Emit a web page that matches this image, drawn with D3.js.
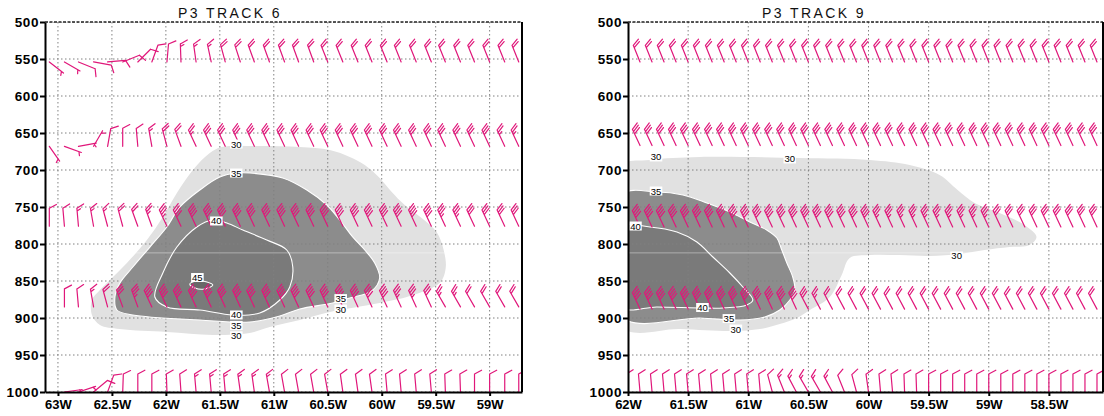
<!DOCTYPE html>
<html><head><meta charset="utf-8">
<script src="https://cdn.jsdelivr.net/npm/d3@7"></script>
<style>
html,body{margin:0;padding:0;background:#fff;}
svg{display:block;}
</style></head><body>
<svg id="chart" width="1104" height="416"></svg>
<script>
// ---------------- DATA ----------------
const pressureTicks = [500,550,600,650,700,750,800,850,900,950,1000];
const leftLonTicks = [-63,-62.5,-62,-61.5,-61,-60.5,-60,-59.5,-59];
const rightLonTicks = [-62,-61.5,-61,-60.5,-60,-59.5,-59,-58.5];
const leftTitle = "P3 TRACK 6";
const rightTitle = "P3 TRACK 9";
const refLevel = 812;

// Track 6 wind barbs (staff direction deg, speed kt)
const leftLons = [-63.08,-62.94,-62.81,-62.67,-62.54,-62.40,-62.26,-62.13,-61.99,-61.86,-61.72,-61.58,-61.45,-61.31,-61.18,-61.04,-60.90,-60.77,-60.63,-60.50,-60.36,-60.22,-60.09,-59.95,-59.82,-59.68,-59.54,-59.41,-59.27,-59.14,-59.00,-58.86,-58.73];
const leftLevels = [554,668,776,885,1000];
const leftDir554 = [128,120,112,100,85,68,45,20,5,358,352,348,345,342,340,340,340,340,340,338,338,338,338,338,338,338,338,338,338,338,338,338,338];
const leftSpd554 = [5,5,10,10,10,10,10,10,10,15,15,15,20,20,20,20,20,20,20,20,20,20,20,20,20,20,20,20,20,20,20,20,20];
const leftDir668 = [145,110,80,30,10,0,355,350,345,340,335,335,335,335,335,335,335,335,335,335,335,335,335,335,335,335,335,335,335,335,335,335,335];
const leftSpd668 = [5,5,5,5,10,10,10,15,20,20,25,30,30,30,30,30,30,30,30,30,30,30,30,30,30,30,30,30,30,30,30,25,25];
const leftDir776 = [0,355,355,350,345,345,340,340,335,335,335,335,335,335,335,335,335,335,335,335,335,335,335,335,335,335,335,335,335,335,335,335,335];
const leftSpd776 = [10,10,15,15,15,20,20,25,35,40,40,40,40,40,40,40,40,40,40,40,40,40,40,40,40,40,40,35,35,30,30,30,30];
const leftDir885 = [null,0,355,350,345,340,340,335,335,335,335,335,335,335,335,335,335,335,335,335,335,335,335,335,335,335,335,330,330,330,330,330,330];
const leftSpd885 = [null,10,10,15,20,30,35,40,40,40,40,40,40,40,40,40,40,40,40,40,40,40,40,40,35,35,30,25,25,20,20,20,20];
const leftDir1000 = [null,82,72,50,20,2,0,0,358,356,355,355,355,352,352,350,350,350,350,350,352,352,352,355,355,355,355,358,358,0,0,0,0];
const leftSpd1000 = [null,5,5,10,10,10,10,10,10,10,15,15,15,15,15,15,10,10,10,10,10,10,10,10,10,10,10,10,10,10,10,10,10];

// Track 9 wind barbs
const rightLons = [-62.0,-61.9,-61.8,-61.7,-61.6,-61.5,-61.4,-61.3,-61.2,-61.1,-61.0,-60.9,-60.8,-60.7,-60.6,-60.5,-60.4,-60.3,-60.2,-60.1,-60.0,-59.9,-59.8,-59.7,-59.6,-59.5,-59.4,-59.3,-59.2,-59.1,-59.0,-58.9,-58.8,-58.7,-58.6,-58.5,-58.4,-58.3,-58.2,-58.1];
const rightLevels = [554,667,777,888,1000];
const rightDir554 = [null,338,338,338,338,338,338,338,338,338,338,338,338,338,338,338,338,338,338,338,338,338,338,338,338,338,338,338,338,338,338,338,338,338,338,338,338,338,338,338];
const rightSpd554 = [null,20,20,20,20,20,20,20,20,20,20,20,20,20,20,20,20,20,20,20,20,20,20,20,20,20,20,20,20,20,20,20,20,20,20,20,20,20,20,20];
const rightDir667 = [null,335,335,335,335,335,335,335,335,335,335,335,335,335,335,335,335,335,335,335,335,335,335,335,335,335,335,335,335,335,335,335,335,335,335,335,335,335,335,335];
const rightSpd667 = [null,30,30,30,30,30,30,30,30,30,30,30,30,30,30,30,30,30,30,30,30,30,30,30,30,30,30,30,30,30,30,30,30,30,30,30,30,30,30,30];
const rightDir777 = [null,335,335,335,335,335,335,335,335,335,335,335,335,335,335,335,335,335,335,335,335,335,335,335,335,335,335,335,335,335,335,335,335,335,335,335,335,335,335,335];
const rightSpd777 = [null,40,40,40,40,40,40,40,40,40,40,40,40,40,40,40,40,40,40,40,40,35,35,35,35,35,35,35,35,35,35,30,30,30,30,30,30,30,30,30];
const rightDir888 = [null,335,335,335,335,335,335,335,335,335,335,335,335,335,335,332,332,332,332,332,332,332,332,332,332,332,332,332,332,332,332,332,332,332,332,332,332,332,332,332];
const rightSpd888 = [null,40,40,40,40,40,40,40,40,40,40,40,40,40,40,30,25,20,20,20,20,20,20,20,20,20,20,20,20,20,20,20,20,20,20,20,20,20,20,20];
const rightDir1000 = [355,355,355,355,355,355,355,355,355,355,355,355,345,338,332,330,330,332,338,345,352,355,355,358,358,0,0,0,0,0,0,0,0,0,0,0,0,0,0,0];
const rightSpd1000 = [10,10,10,10,10,10,10,10,10,10,10,10,10,15,15,15,15,15,10,10,10,10,10,10,10,10,10,10,10,10,10,10,10,10,10,10,10,10,10,10];

// Wind speed shading contours [lon, hPa]
const left30 = [[-62.611,862.2],[-62.519,848.7],[-62.361,825.7],[-62.176,794.6],[-62.028,763.5],[-61.898,731.1],[-61.750,700.0],[-61.593,677.0],[-61.481,668.9],[-61.130,667.6],[-60.759,668.9],[-60.481,673.0],[-60.296,682.4],[-60.157,693.3],[-60.019,710.8],[-59.907,729.7],[-59.787,747.3],[-59.630,764.9],[-59.491,783.8],[-59.426,808.1],[-59.407,832.4],[-59.463,852.7],[-59.741,870.3],[-60.019,879.7],[-60.481,891.9],[-60.759,902.7],[-61.037,912.2],[-61.222,920.2],[-61.565,922.9],[-61.991,918.9],[-62.426,914.9],[-62.611,909.5],[-62.685,896.0],[-62.685,875.7]];
const left35 = [[-62.472,871.6],[-62.426,852.7],[-62.306,831.1],[-62.148,804.1],[-61.991,777.0],[-61.870,750.0],[-61.685,727.0],[-61.500,709.5],[-61.343,704.1],[-61.222,704.1],[-60.917,710.8],[-60.694,727.0],[-60.509,747.3],[-60.389,767.6],[-60.269,790.5],[-60.157,808.1],[-60.065,825.7],[-60.019,846.0],[-60.093,863.5],[-60.296,873.0],[-60.454,879.7],[-60.759,887.8],[-60.944,897.3],[-61.222,905.4],[-61.685,902.7],[-62.306,896.0],[-62.454,889.2]];
const left40 = [[-62.102,871.6],[-62.028,839.2],[-61.898,804.1],[-61.713,777.0],[-61.565,767.6],[-61.435,771.6],[-61.287,781.1],[-61.065,794.6],[-60.880,808.1],[-60.824,831.1],[-60.852,858.1],[-60.944,875.7],[-61.130,893.2],[-61.380,896.0],[-61.685,889.2],[-61.991,885.1]];
const left45 = [[-61.778,854.1],[-61.713,850.0],[-61.620,851.4],[-61.565,855.4],[-61.639,860.8],[-61.731,859.5]];
const right30 = [[-62.05,694.6],[-61.817,686.5],[-61.402,682.4],[-60.571,683.8],[-59.990,686.5],[-59.658,693.3],[-59.409,706.8],[-59.259,727.0],[-59.118,744.6],[-58.910,758.1],[-58.703,774.3],[-58.603,790.5],[-58.661,801.4],[-58.827,804.1],[-59.035,808.1],[-59.243,813.5],[-59.492,816.2],[-59.741,814.9],[-59.990,814.9],[-60.156,818.9],[-60.223,841.9],[-60.322,871.6],[-60.488,889.2],[-60.596,900.0],[-60.738,908.1],[-60.904,914.9],[-61.128,917.6],[-61.568,914.9],[-62.05,912.2]];
const right35 = [[-62.05,733.8],[-61.759,729.7],[-61.543,733.8],[-61.344,744.6],[-61.153,756.8],[-60.987,770.3],[-60.846,781.1],[-60.762,791.9],[-60.721,808.1],[-60.679,825.7],[-60.630,844.6],[-60.613,862.2],[-60.654,875.7],[-60.738,889.2],[-60.862,898.6],[-61.070,902.7],[-61.402,900.0],[-62.05,898.6]];
const right40 = [[-62.05,777.0],[-61.817,777.0],[-61.593,783.8],[-61.427,797.3],[-61.294,817.6],[-61.153,839.2],[-61.045,858.1],[-60.962,875.7],[-61.012,882.4],[-61.211,886.5],[-61.377,886.5],[-61.759,885.1],[-62.05,885.1]];

// contour labels [text, lon, hPa]
const leftLabels = [["30",-61.347,664.9],["35",-61.347,704.1],["40",-61.532,768.9],["45",-61.708,845.3],["40",-61.347,895.9],["35",-61.347,910.0],["30",-61.347,924.1],["35",-60.380,873.8],["30",-60.380,887.9]];
const rightLabels = [["30",-61.767,682.4],["30",-60.655,685.1],["35",-61.767,728.4],["40",-61.938,775.7],["40",-61.381,885.8],["35",-61.161,900.8],["30",-61.103,914.9],["30",-59.267,816.2]];

// ---------------- DRAWING ----------------
const svg = d3.select("#chart");
const BARB = "#e0177a";
const fills = {30:"#e1e1e1",35:"#8c8c8c",40:"#7a7a7a",45:"#686868"};

function barbPath(x, y, dir, spd) {
  const L = 18, BL = 8, SP = 2.6, A = 62 * Math.PI / 180;
  const t = dir * Math.PI / 180;
  const ux = Math.sin(t), uy = -Math.cos(t);
  const px = Math.cos(t), py = Math.sin(t);
  const tx = x + L * ux, ty = y + L * uy;
  const fx = Math.cos(A) * ux + Math.sin(A) * px, fy = Math.cos(A) * uy + Math.sin(A) * py;
  let d = `M${x},${y}L${tx},${ty}`;
  const s = Math.round(spd / 5) * 5;
  const n10 = Math.floor(s / 10), n5 = (s % 10) >= 5 ? 1 : 0;
  for (let i = 0; i < n10; i++) {
    const bx = tx - i * SP * ux, by = ty - i * SP * uy;
    d += `M${bx},${by}l${BL * fx},${BL * fy}`;
  }
  if (n5) {
    const i = n10 === 0 ? 1 : n10;
    const bx = tx - i * SP * ux, by = ty - i * SP * uy;
    d += `M${bx},${by}l${BL * 0.5 * fx},${BL * 0.5 * fy}`;
  }
  return d;
}

function panel(cfg) {
  const x = d3.scaleLinear().domain(cfg.lonDomain).range([cfg.x0, cfg.x1]);
  const y = d3.scaleLinear().domain([500, 1000]).range([22, 392]);
  const g = svg.append("g");
  const clipId = "clip" + cfg.id;
  svg.append("clipPath").attr("id", clipId).append("rect")
    .attr("x", cfg.x0).attr("y", 22).attr("width", cfg.x1 - cfg.x0).attr("height", 370);
  const plot = g.append("g").attr("clip-path", `url(#${clipId})`);

  const line = d3.line().x(d => x(d[0])).y(d => y(d[1])).curve(d3.curveCatmullRomClosed.alpha(0.5));
  cfg.polys.forEach(p => {
    plot.append("path").attr("d", line(p.pts)).attr("fill", fills[p.level]).attr("stroke", "none");
  });
  plot.append("line").attr("x1", cfg.x0).attr("x2", cfg.x1)
    .attr("y1", y(refLevel)).attr("y2", y(refLevel))
    .attr("stroke", "#fff").attr("stroke-opacity", 0.4).attr("stroke-width", 1);
  const grid = plot.append("g").attr("stroke", "#808080").attr("stroke-width", 1).attr("stroke-dasharray", "1.5,2.5");
  cfg.lonTicks.forEach(v => grid.append("line").attr("x1", x(v)).attr("x2", x(v)).attr("y1", 22).attr("y2", 392));
  pressureTicks.forEach(v => grid.append("line").attr("x1", cfg.x0).attr("x2", cfg.x1).attr("y1", y(v)).attr("y2", y(v)));
  cfg.polys.filter(p => p.level > 30).forEach(p => {
    plot.append("path").attr("d", line(p.pts)).attr("fill", "none").attr("stroke", "#fff").attr("stroke-width", 1.1);
  });
  const bg = plot.append("g").attr("stroke", BARB).attr("stroke-width", 1.2).attr("fill", "none").attr("stroke-linecap", "round");
  cfg.rows.forEach(r => {
    cfg.lons.forEach((lon, i) => {
      if (r.dir[i] == null || r.spd[i] == null) return;
      bg.append("path").attr("d", barbPath(x(lon), y(r.level), r.dir[i], r.spd[i]));
    });
  });
  const lg = plot.append("g");
  cfg.labels.forEach(l => {
    const t = lg.append("text").attr("x", x(l[1])).attr("y", y(l[2]))
      .attr("text-anchor", "middle").attr("dominant-baseline", "central")
      .attr("font-family", "Liberation Sans, Arial, sans-serif").attr("font-size", 9.5)
      .attr("fill", "#000").text(l[0]);
    const b = t.node().getBBox();
    lg.insert("rect", () => t.node()).attr("x", b.x - 1).attr("y", b.y + 1).attr("width", b.width + 2).attr("height", b.height - 2).attr("fill", "#fff");
  });

  const ax = g.append("g").attr("transform", `translate(${cfg.x0},0)`)
    .call(d3.axisLeft(y).tickValues(pressureTicks).tickSize(5).tickSizeOuter(0).tickPadding(1).tickFormat(d3.format("d")));
  ax.selectAll("text").attr("font-family", "Liberation Sans, Arial, sans-serif").attr("font-weight", "bold")
    .attr("font-size", 13.5).attr("letter-spacing", "0.6px").attr("fill", "#000");
  const bx = g.append("g").attr("transform", `translate(0,392)`)
    .call(d3.axisBottom(x).tickValues(cfg.lonTicks).tickSize(4).tickSizeOuter(0).tickPadding(4)
      .tickFormat(v => Math.abs(v) + "W"));
  bx.selectAll("text").attr("font-family", "Liberation Sans, Arial, sans-serif").attr("font-weight", "bold")
    .attr("font-size", 13).attr("fill", "#000");
  [ax, bx].forEach(a => {
    a.select(".domain").attr("stroke", "#000").attr("stroke-width", 2);
    a.selectAll(".tick line").attr("stroke", "#000").attr("stroke-width", 2);
  });
  g.append("line").attr("x1", cfg.x0).attr("x2", cfg.x1).attr("y1", 22).attr("y2", 22)
    .attr("stroke", "#222").attr("stroke-width", 1.5).attr("stroke-dasharray", "3,1.5");
  g.append("line").attr("x1", cfg.x1).attr("x2", cfg.x1).attr("y1", 22).attr("y2", 392)
    .attr("stroke", "#000").attr("stroke-width", 2);
  g.append("text").attr("x", cfg.titleX).attr("y", 18).attr("font-family", "Liberation Sans, Arial, sans-serif")
    .attr("font-size", 14).attr("letter-spacing", "2.4px").attr("fill", "#111").text(cfg.title);
}

panel({
  id: "L", x0: 45, x1: 522, lonDomain: [-63.12, -58.70], lonTicks: leftLonTicks,
  title: leftTitle, titleX: 178, lons: leftLons, labels: leftLabels,
  polys: [{level: 30, pts: left30}, {level: 35, pts: left35}, {level: 40, pts: left40}, {level: 45, pts: left45}],
  rows: [
    {level: leftLevels[0], dir: leftDir554, spd: leftSpd554},
    {level: leftLevels[1], dir: leftDir668, spd: leftSpd668},
    {level: leftLevels[2], dir: leftDir776, spd: leftSpd776},
    {level: leftLevels[3], dir: leftDir885, spd: leftSpd885},
    {level: leftLevels[4], dir: leftDir1000, spd: leftSpd1000}
  ]
});
panel({
  id: "R", x0: 628, x1: 1103, lonDomain: [-62, -58.05], lonTicks: rightLonTicks,
  title: rightTitle, titleX: 762, lons: rightLons, labels: rightLabels,
  polys: [{level: 30, pts: right30}, {level: 35, pts: right35}, {level: 40, pts: right40}],
  rows: [
    {level: rightLevels[0], dir: rightDir554, spd: rightSpd554},
    {level: rightLevels[1], dir: rightDir667, spd: rightSpd667},
    {level: rightLevels[2], dir: rightDir777, spd: rightSpd777},
    {level: rightLevels[3], dir: rightDir888, spd: rightSpd888},
    {level: rightLevels[4], dir: rightDir1000, spd: rightSpd1000}
  ]
});
</script>
</body></html>
